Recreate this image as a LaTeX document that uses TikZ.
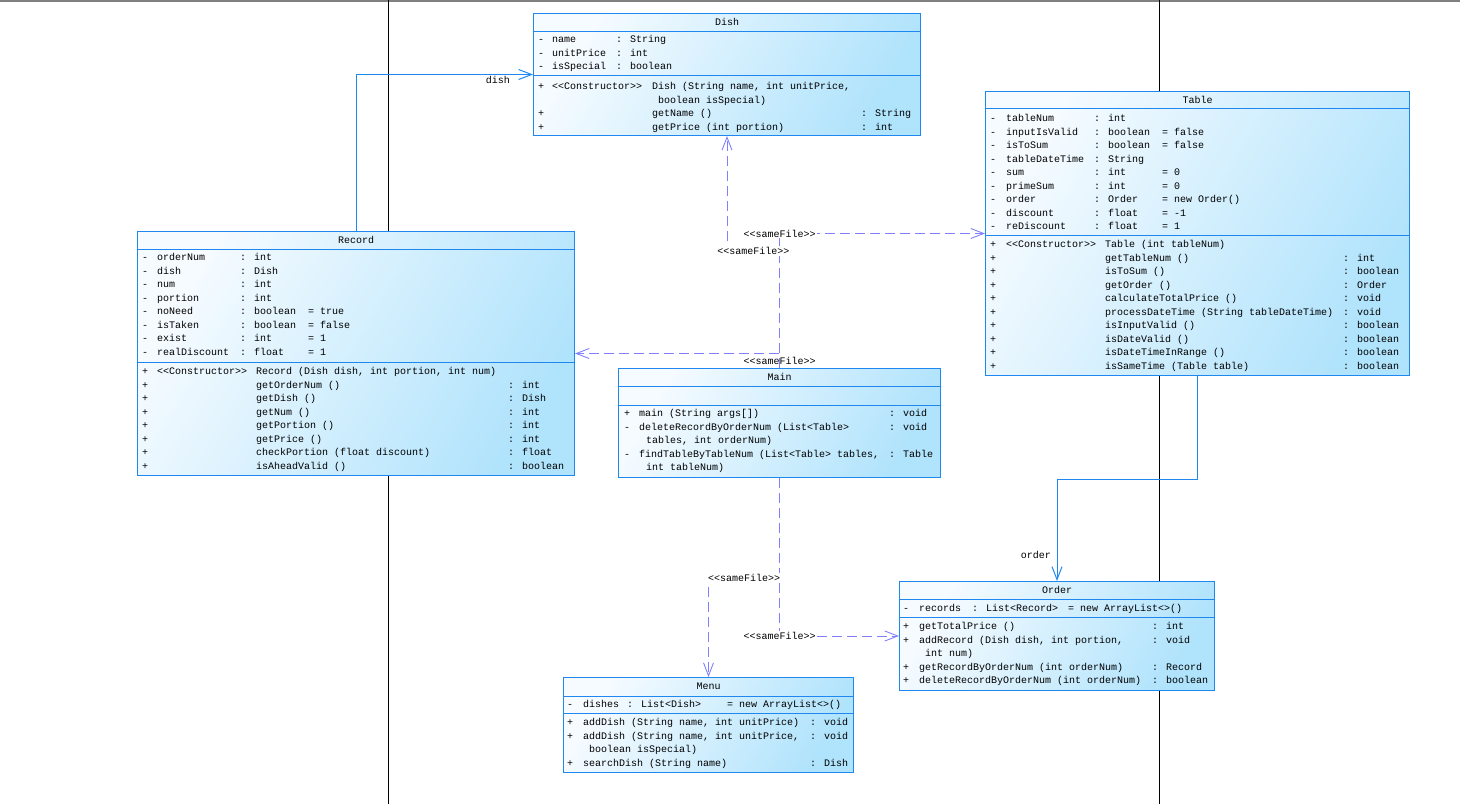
\documentclass[tikz,border=0pt]{standalone}
\usepackage{fontspec}
\usetikzlibrary{arrows.meta,positioning}
\newfontfamily\umlfont{Liberation Mono}
\definecolor{umlblue}{RGB}{30,135,240}
\definecolor{umllight}{RGB}{246,251,255}
\definecolor{umldark}{RGB}{176,227,252}
\definecolor{deplink}{RGB}{128,128,255}
\begin{document}
\begin{tikzpicture}[x=1pt, y=-1pt,
  every node/.style={font=\umlfont\fontsize{10}{13.5}\selectfont, inner sep=0pt},
  classbox/.style={draw=umlblue, line width=1pt, top color=umllight, bottom color=umldark, shading angle=60, anchor=north west},
  sepline/.style={draw=umlblue, line width=1pt},
  members/.style={anchor=north west},
  lifeline/.style={draw=black, line width=1pt},
  assoc/.style={draw=umlblue, line width=1pt, -{Straight Barb[length=13pt,width=10pt]}},
  samefile/.style={draw=deplink, line width=0.9pt, dash pattern=on 10pt off 5pt, -{Straight Barb[length=13pt,width=10pt]}},
  fileLbl/.style={fill=white, inner sep=1pt}]
\useasboundingbox (0,0) rectangle (1460,804);
\fill[gray] (0,0) rectangle (1460,1.5);
\draw[lifeline] (388,0) -- (388,804);
\draw[lifeline] (1159,0) -- (1159,804);

\node[classbox, minimum width=387pt, minimum height=122pt] (dish) at (533,13) {};
\draw[sepline] ([yshift=-18pt]dish.north west) -- ([yshift=-18pt]dish.north east);
\draw[sepline] ([yshift=-62pt]dish.north west) -- ([yshift=-62pt]dish.north east);
\node (dishName) at ([yshift=-9pt]dish.north) {Dish};
\node[members] (dishAttr) at (538,33) {\begin{tabular}{@{}p{14pt}@{}p{64pt}@{}l@{}}
- & name & : String\\
- & unitPrice & : int\\
- & isSpecial & : boolean
\end{tabular}};
\node[members] (dishOps) at (538,80) {\begin{tabular}{@{}p{14pt}@{}p{100pt}@{}p{209pt}@{}l@{}}
+ & <<Constructor>> & Dish (String name, int unitPrice, & \\
 & & \hspace{6pt}boolean isSpecial) & \\
+ & & getName () & : String\\
+ & & getPrice (int portion) & : int
\end{tabular}};

\node[classbox, minimum width=424pt, minimum height=284pt] (table) at (985,91) {};
\draw[sepline] ([yshift=-17pt]table.north west) -- ([yshift=-17pt]table.north east);
\draw[sepline] ([yshift=-144pt]table.north west) -- ([yshift=-144pt]table.north east);
\node (tableName) at ([yshift=-8.5pt]table.north) {Table};
\node[members] (tableAttr) at (990,112) {\begin{tabular}{@{}p{16pt}@{}p{88pt}@{}p{68pt}@{}l@{}}
- & tableNum & : int & \\
- & inputIsValid & : boolean & = false\\
- & isToSum & : boolean & = false\\
- & tableDateTime & : String & \\
- & sum & : int & = 0\\
- & primeSum & : int & = 0\\
- & order & : Order & = new Order()\\
- & discount & : float & = -1\\
- & reDiscount & : float & = 1
\end{tabular}};
\node[members] (tableOps) at (990,238) {\begin{tabular}{@{}p{16pt}@{}p{99pt}@{}p{238pt}@{}l@{}}
+ & <<Constructor>> & Table (int tableNum) & \\
+ & & getTableNum () & : int\\
+ & & isToSum () & : boolean\\
+ & & getOrder () & : Order\\
+ & & calculateTotalPrice () & : void\\
+ & & processDateTime (String tableDateTime) & : void\\
+ & & isInputValid () & : boolean\\
+ & & isDateValid () & : boolean\\
+ & & isDateTimeInRange () & : boolean\\
+ & & isSameTime (Table table) & : boolean
\end{tabular}};

\node[classbox, minimum width=437pt, minimum height=244pt] (record) at (137,231) {};
\draw[sepline] ([yshift=-18pt]record.north west) -- ([yshift=-18pt]record.north east);
\draw[sepline] ([yshift=-131pt]record.north west) -- ([yshift=-131pt]record.north east);
\node (recordName) at ([yshift=-9pt]record.north) {Record};
\node[members] (recordAttr) at (142,251) {\begin{tabular}{@{}p{15pt}@{}p{83pt}@{}p{68pt}@{}l@{}}
- & orderNum & : int & \\
- & dish & : Dish & \\
- & num & : int & \\
- & portion & : int & \\
- & noNeed & : boolean & = true\\
- & isTaken & : boolean & = false\\
- & exist & : int & = 1\\
- & realDiscount & : float & = 1
\end{tabular}};
\node[members] (recordOps) at (142,365) {\begin{tabular}{@{}p{15pt}@{}p{99pt}@{}p{252pt}@{}l@{}}
+ & <<Constructor>> & Record (Dish dish, int portion, int num) & \\
+ & & getOrderNum () & : int\\
+ & & getDish () & : Dish\\
+ & & getNum () & : int\\
+ & & getPortion () & : int\\
+ & & getPrice () & : int\\
+ & & checkPortion (float discount) & : float\\
+ & & isAheadValid () & : boolean
\end{tabular}};

\node[classbox, minimum width=322pt, minimum height=109pt] (mainc) at (618,368) {};
\draw[sepline] ([yshift=-18pt]mainc.north west) -- ([yshift=-18pt]mainc.north east);
\draw[sepline] ([yshift=-37pt]mainc.north west) -- ([yshift=-37pt]mainc.north east);
\node (mainName) at ([yshift=-9pt]mainc.north) {Main};
\node[members] (mainOps) at (624,407) {\begin{tabular}{@{}p{15pt}@{}p{250pt}@{}l@{}}
+ & main (String args{[]}) & : void\\
- & deleteRecordByOrderNum (List<Table> & : void\\
 & \hspace{7pt}tables, int orderNum) & \\
- & findTableByTableNum (List<Table> tables, & : Table\\
 & \hspace{7pt}int tableNum) &
\end{tabular}};

\node[classbox, minimum width=315pt, minimum height=109pt] (order) at (899,581) {};
\draw[sepline] ([yshift=-18pt]order.north west) -- ([yshift=-18pt]order.north east);
\draw[sepline] ([yshift=-36pt]order.north west) -- ([yshift=-36pt]order.north east);
\node (orderName) at ([yshift=-9pt]order.north) {Order};
\node[members] (orderAttr) at (903,602) {\begin{tabular}{@{}p{16pt}@{}p{53pt}@{}p{96pt}@{}l@{}}
- & records & : List<Record> & = new ArrayList<>()
\end{tabular}};
\node[members] (orderOps) at (903,620) {\begin{tabular}{@{}p{16pt}@{}p{233pt}@{}l@{}}
+ & getTotalPrice () & : int\\
+ & addRecord (Dish dish, int portion, & : void\\
 & \hspace{6pt}int num) & \\
+ & getRecordByOrderNum (int orderNum) & : Record\\
+ & deleteRecordByOrderNum (int orderNum) & : boolean
\end{tabular}};

\node[classbox, minimum width=290pt, minimum height=95pt] (menu) at (563,677) {};
\draw[sepline] ([yshift=-19pt]menu.north west) -- ([yshift=-19pt]menu.north east);
\draw[sepline] ([yshift=-36pt]menu.north west) -- ([yshift=-36pt]menu.north east);
\node (menuName) at ([yshift=-9.5pt]menu.north) {Menu};
\node[members] (menuAttr) at (567,698) {\begin{tabular}{@{}p{16pt}@{}p{44pt}@{}p{100pt}@{}l@{}}
- & dishes & : List<Dish> & = new ArrayList<>()
\end{tabular}};
\node[members] (menuOps) at (567,716) {\begin{tabular}{@{}p{16pt}@{}p{227pt}@{}l@{}}
+ & addDish (String name, int unitPrice) & : void\\
+ & addDish (String name, int unitPrice, & : void\\
 & \hspace{6pt}boolean isSpecial) & \\
+ & searchDish (String name) & : Dish
\end{tabular}};

\draw[assoc] (record.north) |- (dish.west);
\node[anchor=north east] (dishRole) at ([xshift=-23pt,yshift=-2pt]dish.west) {dish};
\draw[assoc] (table.south) -- ([yshift=-103pt]table.south) -| (order.north);
\node[anchor=east] (orderRole) at ([xshift=-6pt,yshift=26pt]order.north) {order};

\draw[samefile] (mainc.north) |- node[fileLbl, yshift=-7pt] (lblRecord) {<<sameFile>>} (record.east);
\draw[samefile] (mainc.north) |- node[fileLbl] (lblTable) {<<sameFile>>} (table.west);
\draw[samefile] (mainc.north) -- ([yshift=117pt]mainc.north) -| node[fileLbl, pos=0.25] (lblDish) {<<sameFile>>} (dish.south);
\draw[samefile] (mainc.south) |- node[fileLbl] (lblOrder) {<<sameFile>>} (order.west);
\draw[samefile] (mainc.south) -- ([yshift=-100pt]mainc.south) -| node[fileLbl, pos=0.25] (lblMenu) {<<sameFile>>} (menu.north);
\end{tikzpicture}
\end{document}
